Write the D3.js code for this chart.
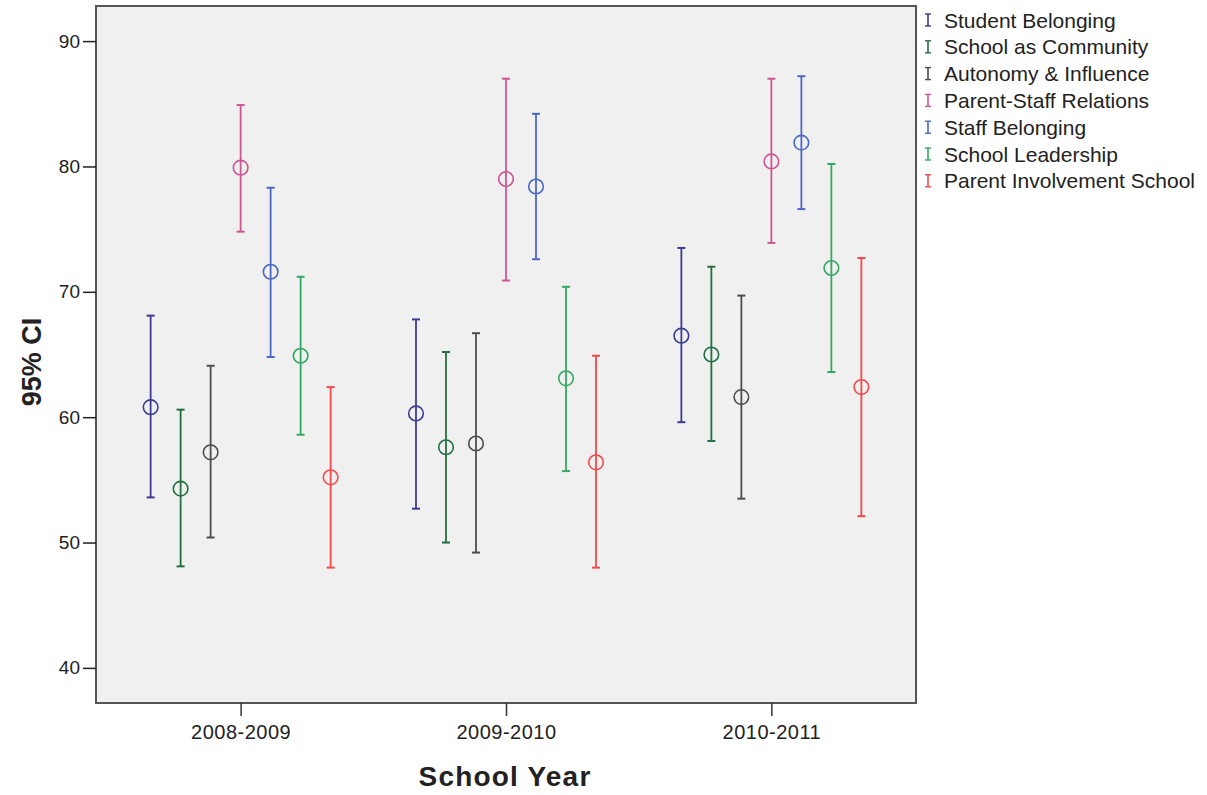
<!DOCTYPE html>
<html>
<head>
<meta charset="utf-8">
<script src="https://cdn.jsdelivr.net/npm/d3@7"></script>
<style>
  body { margin: 0; background: #fff; }
  svg text { font-family: "Liberation Sans", Arial, sans-serif; }
</style>
</head>
<body>
<div id="frame"></div>
<script>
// data
let years = ["2008-2009", "2009-2010", "2010-2011"];
let measures = ["Student Belonging", "School as Community", "Autonomy & Influence",
  "Parent-Staff Relations", "Staff Belonging", "School Leadership", "Parent Involvement School"];
let colors = ["#3b3b8f", "#22703f", "#4d4d4d", "#cf5592", "#4a68c4", "#33a862", "#f2494b"];

// mean per measure, one value per year
let means = [
  [60.8, 60.3, 66.5],
  [54.3, 57.6, 65.0],
  [57.2, 57.9, 61.6],
  [79.9, 79.0, 80.4],
  [71.6, 78.4, 81.9],
  [64.9, 63.1, 71.9],
  [55.2, 56.4, 62.4]
];
let lower = [
  [53.6, 52.7, 59.6],
  [48.1, 50.0, 58.1],
  [50.4, 49.2, 53.5],
  [74.8, 70.9, 73.9],
  [64.8, 72.6, 76.6],
  [58.6, 55.7, 63.6],
  [48.0, 48.0, 52.1]
];
let upper = [
  [68.1, 67.8, 73.5],
  [60.6, 65.2, 72.0],
  [64.1, 66.7, 69.7],
  [84.9, 87.0, 87.0],
  [78.3, 84.2, 87.2],
  [71.2, 70.4, 80.2],
  [62.4, 64.9, 72.7]
];
let yTicks = [40, 50, 60, 70, 80, 90];

let margin = { top: 6, right: 291, bottom: 92, left: 96 },
    width = 1207 - margin.left - margin.right,
    height = 795 - margin.top - margin.bottom;

let svg = d3.select('#frame').append('svg')
    .attr('width', 1207).attr('height', 795)
    .append('g')
    .attr('transform', 'translate(' + margin.left + ',' + margin.top + ')');

let x = d3.scalePoint().domain(years).range([0, width]).padding(0.545);
let offset = d3.scalePoint().domain(measures).range([-90, 90]);
let y = d3.scaleLinear().domain([37.2, 92.8]).range([height, 0]);

// plot background
svg.append('rect')
    .attr('width', width).attr('height', height)
    .style('fill', '#f0f0f0');

// rows of points, one per measure and year
let rows = [];
measures.forEach((m, i) => {
  years.forEach((yr, j) => {
    rows.push({ m: m, c: colors[i], year: yr, mean: means[i][j], lo: lower[i][j], hi: upper[i][j] });
  });
});

let g = svg.selectAll('.bar').data(rows).enter().append('g')
    .attr('transform', d => 'translate(' + (x(d.year) + offset(d.m)) + ',0)');

g.append('line')
    .attr('y1', d => y(d.lo)).attr('y2', d => y(d.hi))
    .style('stroke', d => d.c).style('stroke-width', 1.8);
g.append('line').attr('x1', -4).attr('x2', 4)
    .attr('y1', d => y(d.hi)).attr('y2', d => y(d.hi))
    .style('stroke', d => d.c).style('stroke-width', 2);
g.append('line').attr('x1', -4).attr('x2', 4)
    .attr('y1', d => y(d.lo)).attr('y2', d => y(d.lo))
    .style('stroke', d => d.c).style('stroke-width', 2);
g.append('circle')
    .attr('cy', d => y(d.mean)).attr('r', 7.3)
    .style('fill', 'none').style('stroke', d => d.c).style('stroke-width', 1.6);

// frame
svg.append('rect')
    .attr('width', width).attr('height', height)
    .style('fill', 'none').style('stroke', '#555').style('stroke-width', 2);

// axes
let yAxis = svg.append('g')
    .call(d3.axisLeft(y).tickValues(yTicks).tickSize(13).tickPadding(3));
yAxis.select('.domain').remove();
yAxis.selectAll('line').style('stroke', '#222').style('stroke-width', 1.5);
yAxis.selectAll('text').style('font-size', '19px').style('fill', '#222');

let xAxis = svg.append('g')
    .attr('transform', 'translate(0,' + height + ')')
    .call(d3.axisBottom(x).tickSize(13).tickPadding(9));
xAxis.select('.domain').remove();
xAxis.selectAll('line').style('stroke', '#333').style('stroke-width', 1.5);
xAxis.selectAll('text').style('font-size', '20px').style('letter-spacing', '0.5px').style('fill', '#222');

// axis titles
svg.append('text')
    .attr('x', 505 - margin.left).attr('y', 786 - margin.top)
    .style('text-anchor', 'middle').style('font-size', '28px').style('font-weight', 'bold')
    .style('letter-spacing', '1.2px').style('fill', '#222')
    .text('School Year');

svg.append('text')
    .attr('transform', 'translate(' + (41 - margin.left) + ',' + (362 - margin.top) + ') rotate(-90)')
    .style('text-anchor', 'middle').style('font-size', '27px').style('font-weight', 'bold')
    .style('fill', '#222')
    .text('95% CI');

// legend
let legend = svg.append('g')
    .attr('transform', 'translate(' + (928 - margin.left) + ',' + (20 - margin.top) + ')');
let item = legend.selectAll('g').data(measures).enter().append('g')
    .attr('transform', (d, i) => 'translate(0,' + i * 26.8 + ')');
item.append('line').attr('y1', -6).attr('y2', 6)
    .style('stroke', (d, i) => colors[i]).style('stroke-width', 1.6);
item.append('line').attr('x1', -3).attr('x2', 3).attr('y1', -6).attr('y2', -6)
    .style('stroke', (d, i) => colors[i]).style('stroke-width', 1.4);
item.append('line').attr('x1', -3).attr('x2', 3).attr('y1', 6).attr('y2', 6)
    .style('stroke', (d, i) => colors[i]).style('stroke-width', 1.4);
item.append('text')
    .attr('x', 16).attr('y', 7.5)
    .style('font-size', '21px').style('fill', '#222')
    .text(d => d);
</script>
</body>
</html>
